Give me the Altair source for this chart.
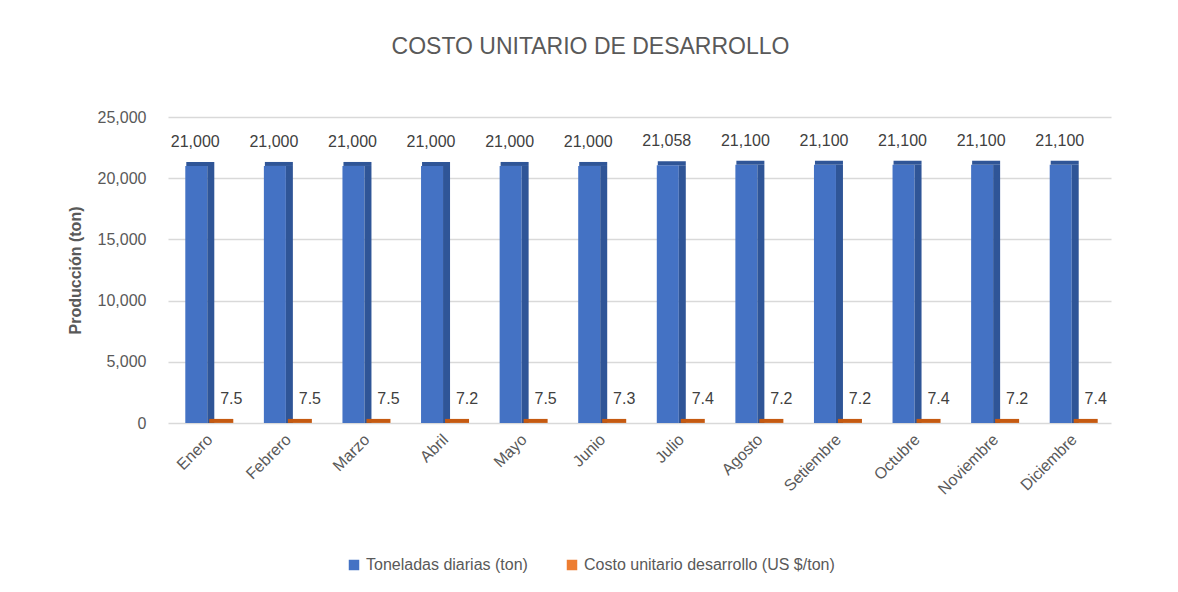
import altair as alt
import pandas as pd

meses = ["Enero", "Febrero", "Marzo", "Abril", "Mayo", "Junio", "Julio",
         "Agosto", "Setiembre", "Octubre", "Noviembre", "Diciembre"]
toneladas = [21000, 21000, 21000, 21000, 21000, 21000, 21058,
             21100, 21100, 21100, 21100, 21100]
costo = [7.5, 7.5, 7.5, 7.2, 7.5, 7.3, 7.4, 7.2, 7.2, 7.4, 7.2, 7.4]
series = ["Toneladas diarias (ton)", "Costo unitario desarrollo (US $/ton)"]
colores = ["#4472C4", "#ED7D31"]

rows = []
for m, t, c in zip(meses, toneladas, costo):
    rows.append({"mes": m, "serie": series[0], "valor": t, "etiqueta": f"{t:,}"})
    rows.append({"mes": m, "serie": series[1], "valor": c, "etiqueta": f"{c:.1f}"})
df = pd.DataFrame(rows)

FONT = "Liberation Sans, sans-serif"
GRAY = "#595959"

x = alt.X("mes:N", sort=meses, title=None,
          axis=alt.Axis(labelAngle=-45, labelAlign="right", labelBaseline="top",
                        labelFontSize=16, labelColor=GRAY, labelFont=FONT,
                        ticks=False, domain=False, grid=False,
                        labelPadding=8, labelOffset=-3))
y = alt.Y("valor:Q", title="Producción (ton)",
          scale=alt.Scale(domain=[0, 25000], nice=False),
          axis=alt.Axis(format=",.0f", values=[0, 5000, 10000, 15000, 20000, 25000],
                        labelFontSize=16, labelColor=GRAY, labelFont=FONT,
                        ticks=False, domain=False, labelPadding=22,
                        titleFontSize=16, titleColor=GRAY, titleFont=FONT,
                        titleFontWeight="bold", titlePadding=14,
                        gridColor="#D9D9D9", gridWidth=1.5))
color = alt.Color("serie:N", sort=series,
                  scale=alt.Scale(domain=series, range=colores),
                  legend=alt.Legend(title=None, orient="none", direction="horizontal",
                                    legendX=178, legendY=440, symbolType="square",
                                    symbolSize=110, labelFontSize=16, labelColor=GRAY,
                                    labelFont=FONT, columnPadding=36, symbolStrokeWidth=0,
                                    symbolOpacity=1, labelLimit=500))

base = alt.Chart(df).encode(x=x, y=y)

ton = base.transform_filter(alt.datum.serie == series[0])
cst = base.transform_filter(alt.datum.serie == series[1])

front = ton.mark_bar(width=22, xOffset=-11, opacity=1).encode(color=color)
side = ton.mark_bar(width=7, xOffset=3.5, color="#2F5597", opacity=1)
top = ton.mark_tick(size=28, thickness=4, xOffset=-7, yOffset=-2,
                    color="#2F5597", opacity=1)
slab = cst.mark_tick(size=24, thickness=4, xOffset=14, yOffset=-2, opacity=1,
                     color="#C55A11")
lab_ton = ton.mark_text(baseline="bottom", dy=-16, xOffset=-12, fontSize=16,
                        font=FONT, color="#404040").encode(text="etiqueta:N")
lab_cst = cst.mark_text(baseline="bottom", dy=-16, xOffset=24, fontSize=16,
                        font=FONT, color="#404040").encode(text="etiqueta:N")
leg_cst = cst.mark_point(opacity=0, size=1).encode(color=color)

chart = alt.layer(front, side, top, slab, leg_cst, lab_ton, lab_cst).properties(
    width=943, height=306,
    view=alt.ViewBackground(stroke="transparent", strokeWidth=0),
    title=alt.TitleParams("COSTO UNITARIO DE DESARROLLO", fontSize=23,
                          font=FONT, color=GRAY, fontWeight="normal",
                          anchor="middle", dx=-49, offset=50),
    autosize=alt.AutoSizeParams(type="none"),
    padding={"left": 160, "top": 109, "right": 59, "bottom": 161},
).configure_view(stroke="transparent", strokeWidth=0).configure_axisX(
    grid=False, domain=False).configure(background="white")

chart.save("out.html", embed_options={"renderer": "svg", "actions": False})
